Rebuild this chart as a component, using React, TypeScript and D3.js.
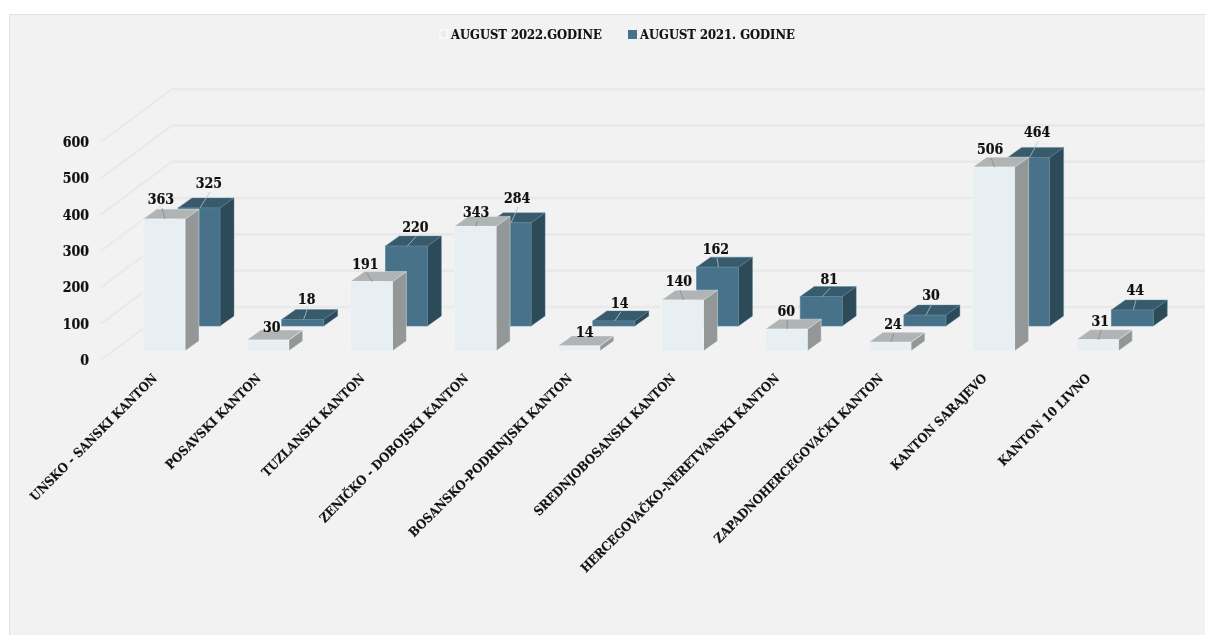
import React from "react";
import * as d3 from "d3";

const categories = ["UNSKO - SANSKI KANTON","POSAVSKI KANTON","TUZLANSKI KANTON","ZENIČKO - DOBOJSKI KANTON","BOSANSKO-PODRINJSKI KANTON","SREDNJOBOSANSKI KANTON","HERCEGOVAČKO-NERETVANSKI KANTON","ZAPADNOHERCEGOVAČKI KANTON","KANTON SARAJEVO","KANTON 10 LIVNO"];
const values2022 = [363,30,191,343,14,140,60,24,506,31];
const values2021 = [325,18,220,284,14,162,81,30,464,44];
const ticks = [0,100,200,300,400,500,600];
const seriesNames = ["AUGUST 2022.GODINE","AUGUST 2021. GODINE"];

// label centres as placed in the picture, relative to the top of each bar
const nudge22: [number,number][] = [[-3,-20],[4,-13],[-6,-18],[1,-14],[6,-14],[-3.5,-19],[0,-18],[3,-18],[-3.5,-18],[3,-19]];
const nudge21: [number,number][] = [[10,-25],[4,-20.5],[9,-19],[7,-25],[6,-18],[-1.5,-18],[8,-17.5],[6,-20],[8.5,-25],[3,-20]];
const noLeader22 = [1, 4];

const FONT = "'DejaVu Serif Condensed','DejaVu Serif',serif";
const W = 1205, H = 635;
const DX = 14, DY = -10;
const BARW = 42;
const skin = [
  { front: "#e8eff2", side: "#939798", top: "#b0b4b5", glow: "#f4f7f8", x: 0, y: 0 },
  { front: "#47728a", side: "#2d4a59", top: "#375a6c", glow: "#5d869b", x: 35, y: -25 },
];

export default function App() {
  const y = d3.scaleLinear().domain([0, 600]).range([0, -218]);
  const x = d3.scaleBand<number>().domain(d3.range(10)).range([143, 143 + 1037]).paddingInner(0).paddingOuter(0).align(0);
  const frontBase = 360, backBase = 307, frontX = 101, backX = 172;
  const minor = d3.range(0, 600, 25).filter((v) => v % 100 !== 0);

  const bar = (i: number, s: number, v: number) => {
    const c = skin[s];
    const x0 = (x(i) as number) + c.x, x1 = x0 + BARW;
    const yb = 351 + c.y, yt = yb + y(v);
    const pts = (p: number[][]) => p.map((q) => q.join(",")).join(" ");
    return (
      <g key={`${i}-${s}`}>
        <polygon points={pts([[x1,yb],[x1+DX,yb+DY],[x1+DX,yt+DY],[x1,yt]])} fill={c.side} stroke={c.glow} strokeWidth={0.7} strokeOpacity={0.6} />
        <polygon points={pts([[x0,yt],[x0+DX,yt+DY],[x1+DX,yt+DY],[x1,yt]])} fill={c.top} stroke={c.glow} strokeWidth={0.7} strokeOpacity={0.6} />
        <rect x={x0} y={yt} width={BARW} height={yb-yt} fill={c.front} stroke={c.glow} strokeWidth={0.8} strokeOpacity={0.8} />
      </g>
    );
  };

  const label = (i: number, s: number, v: number) => {
    const c = skin[s];
    const n = (s === 0 ? nudge22 : nudge21)[i];
    const cx = (x(i) as number) + c.x + BARW / 2;
    const yt = 351 + c.y + y(v);
    const lx = cx + n[0], ly = yt + n[1];
    const hasLeader = !(s === 0 && noLeader22.includes(i));
    return (
      <g key={`l${i}-${s}`}>
        {hasLeader && <line x1={lx + 1} y1={ly + 9} x2={cx + 1} y2={yt} stroke={s === 0 ? "#85898b" : "#b5c0c6"} strokeWidth={0.8} />}
        <text x={lx} y={ly + 5} textAnchor="middle" fontFamily={FONT} fontWeight={700} fontSize={14} fill="#111" stroke="#111" strokeWidth={0.2}>{v}</text>
      </g>
    );
  };

  return (
    <svg width={W} height={H} style={{ position: "absolute", left: 0, top: 0, display: "block", background: "#fff", filter: "blur(0.35px)" }}>
      <rect x={9.5} y={14.5} width={W} height={H} fill="#f2f2f2" stroke="#e3e3e3" strokeWidth={1} />
      {minor.map((v) => (
        <line key={`m${v}`} x1={backX} x2={W} y1={backBase + y(v)} y2={backBase + y(v)} stroke="#efefef" strokeWidth={1} />
      ))}
      {ticks.map((t) => (
        <g key={t}>
          <line x1={frontX} y1={frontBase + y(t)} x2={backX} y2={backBase + y(t)} stroke="#e9e9e9" strokeWidth={2} />
          <line x1={backX} x2={W} y1={backBase + y(t)} y2={backBase + y(t)} stroke="#e9e9e9" strokeWidth={2.6} />
          <text x={89} y={frontBase + y(t) + 5} textAnchor="end" fontFamily={FONT} fontWeight={700} fontSize={14} fill="#111" stroke="#111" strokeWidth={0.2}>{t}</text>
        </g>
      ))}
      {categories.map((_, i) => (
        <g key={i}>
          {bar(i, 1, values2021[i])}
          {bar(i, 0, values2022[i])}
        </g>
      ))}
      {categories.map((_, i) => (
        <g key={`lab${i}`}>
          {label(i, 1, values2021[i])}
          {label(i, 0, values2022[i])}
        </g>
      ))}
      {categories.map((c, i) => (
        <text key={c} transform={`translate(${(x(i) as number) + 15},${379}) rotate(-45)`} textAnchor="end" fontFamily={FONT} fontWeight={700} fontSize={12.7} fill="#111" stroke="#111" strokeWidth={0.15}>{c}</text>
      ))}
      <rect x={440} y={30} width={7} height={8} fill="#e8eff2" stroke="#fff" strokeWidth={1} />
      <text x={451} y={38.5} fontFamily={FONT} fontWeight={700} fontSize={12.85} fill="#111" stroke="#111" strokeWidth={0.15}>{seriesNames[0]}</text>
      <rect x={628} y={30} width={9} height={9} fill="#47728a" />
      <text x={640} y={38.5} fontFamily={FONT} fontWeight={700} fontSize={12.85} fill="#111" stroke="#111" strokeWidth={0.15}>{seriesNames[1]}</text>
    </svg>
  );
}
